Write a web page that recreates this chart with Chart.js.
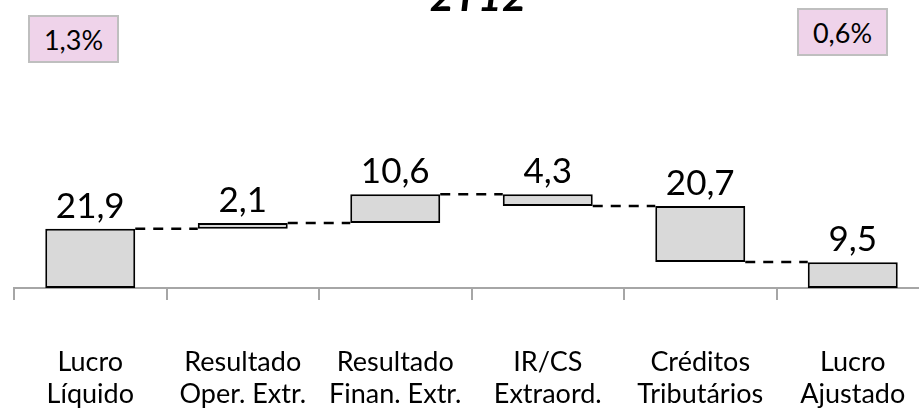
<!DOCTYPE html>
<html>
<head>
<meta charset="utf-8">
<script src="https://cdn.jsdelivr.net/npm/chart.js@4.4.0/dist/chart.umd.min.js"></script>
<style>
    html, body { margin: 0; padding: 0; background: #fff; overflow: hidden; }
    #wrap { position: relative; width: 919px; height: 413px; overflow: hidden; }
    #chart { position: absolute; left: 0; top: 0; }
    .pct {
        position: absolute; box-sizing: border-box; width: 91px; height: 48px;
        background: #EFD3EA; border: 2px solid #BFBFBF;
        font: 27px Lato, sans-serif; color: #000;
        display: flex; align-items: center; justify-content: center;
    }
</style>
</head>
<body>
<div id="wrap">
    <canvas id="chart" width="940" height="413"></canvas>
    <div class="pct" id="pct-left" style="left:28px; top:15px;"></div>
    <div class="pct" id="pct-right" style="left:797px; top:8px;"></div>
</div>
<script>
const titleText = '2T12';
const categories = [
    ['Lucro', 'Líquido'],
    ['Resultado', 'Oper. Extr.'],
    ['Resultado', 'Finan. Extr.'],
    ['IR/CS', 'Extraord.'],
    ['Créditos', 'Tributários'],
    ['Lucro', 'Ajustado']
];
const changes = [21.9, 2.1, 10.6, -4.3, -20.7, 9.5];
const isTotal = [true, false, false, false, false, true];
const marginLabels = ['1,3%', '0,6%'];

document.getElementById('pct-left').innerText = marginLabels[0];
document.getElementById('pct-right').innerText = marginLabels[1];

// floating bars: totals start at zero, the others start where the last one ended
let running = 0;
const ranges = changes.map((v, i) => {
    if (isTotal[i]) {
        running = v;
        return [0, v];
    }
    const r = [running, running + v];
    running += v;
    return r;
});

const fmt = v => Math.abs(v).toFixed(1).replace('.', ',');

const waterfallExtras = {
    id: 'waterfallExtras',
    afterDatasetsDraw(chart) {
        const ctx = chart.ctx;
        const y = chart.scales.y;
        const bars = chart.getDatasetMeta(0).data;

        // dashed connectors
        ctx.save();
        ctx.strokeStyle = '#000';
        ctx.lineWidth = 2.5;
        ctx.setLineDash([10, 8]);
        for (let i = 0; i < bars.length - 1; i++) {
            const level = ranges[i][1];
            const py = y.getPixelForValue(level);
            const x1 = bars[i].x + bars[i].width / 2;
            const x2 = bars[i + 1].x - bars[i + 1].width / 2;
            ctx.beginPath();
            ctx.moveTo(x1, py);
            ctx.lineTo(x2, py);
            ctx.stroke();
        }
        ctx.restore();

        // value labels above each bar
        ctx.save();
        ctx.fillStyle = '#000';
        ctx.font = '35px Lato, sans-serif';
        ctx.textAlign = 'center';
        ctx.textBaseline = 'alphabetic';
        bars.forEach((bar, i) => {
            const top = Math.max(ranges[i][0], ranges[i][1]);
            ctx.fillText(fmt(changes[i]), bar.x, y.getPixelForValue(top) - 11);
        });
        ctx.restore();

        // title, partly cut off at the top
        ctx.save();
        ctx.fillStyle = '#000';
        ctx.font = 'italic bold 42px Lato, sans-serif';
        ctx.textAlign = 'center';
        ctx.textBaseline = 'alphabetic';
        ctx.fillText(titleText, 478, 11);
        ctx.restore();
    }
};

new Chart(document.getElementById('chart').getContext('2d'), {
    type: 'bar',
    data: {
        labels: categories,
        datasets: [{
            data: ranges,
            backgroundColor: '#D9D9D9',
            borderColor: '#000',
            borderWidth: 2,
            borderSkipped: false,
            barPercentage: 0.59,
            categoryPercentage: 1
        }]
    },
    options: {
        responsive: false,
        animation: false,
        layout: { padding: { left: 14, right: 11, top: 17, bottom: 0 } },
        plugins: {
            legend: { display: false },
            tooltip: { enabled: false }
        },
        scales: {
            x: {
                grid: {
                    drawOnChartArea: false,
                    drawTicks: true,
                    tickLength: 12,
                    color: '#A6A6A6',
                    lineWidth: 2
                },
                border: { display: true, color: '#A6A6A6', width: 2 },
                ticks: {
                    color: '#000',
                    padding: 46,
                    maxRotation: 0,
                    autoSkip: false,
                    font: { family: 'Lato, sans-serif', size: 27, lineHeight: 1.2 }
                },
                afterFit(scale) {
                    scale.height = 125;
                    scale.paddingLeft = 0;
                    scale.paddingRight = 0;
                }
            },
            y: {
                display: false,
                min: 0,
                max: 100
            }
        }
    },
    plugins: [waterfallExtras]
});
</script>
</body>
</html>
